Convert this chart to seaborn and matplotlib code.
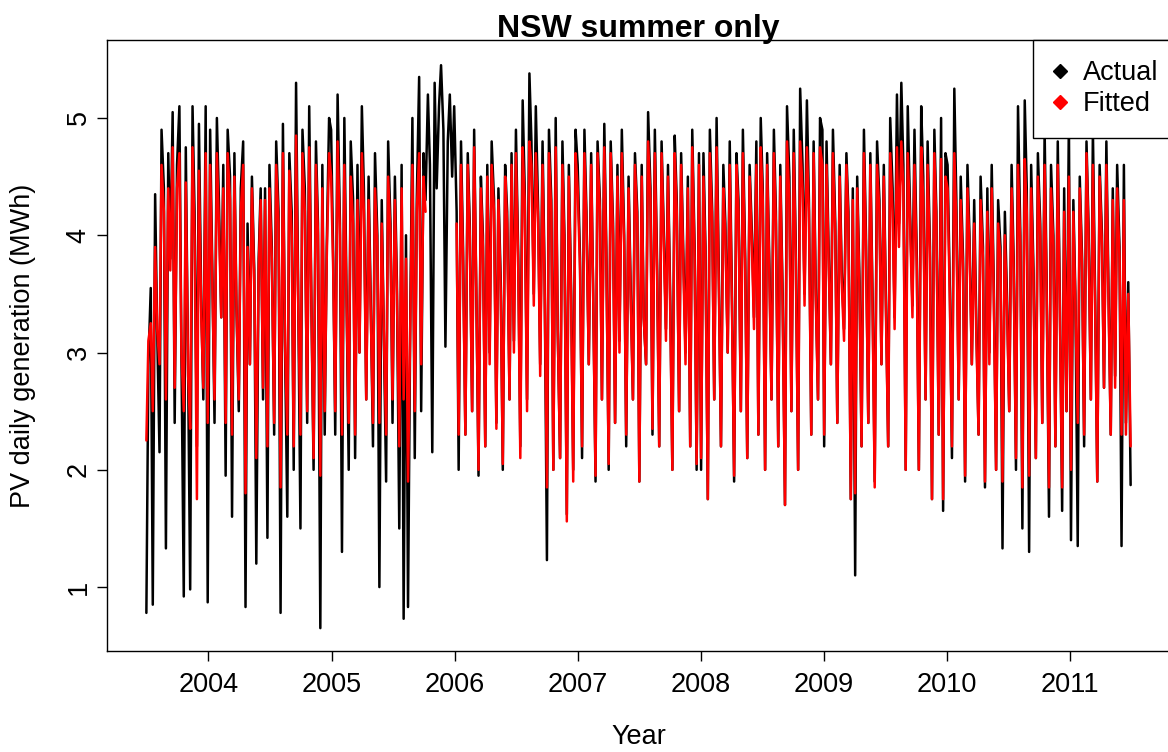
import numpy as np
import pandas as pd
import matplotlib
matplotlib.use("Agg")
import matplotlib.pyplot as plt
from matplotlib.lines import Line2D
import seaborn as sns

nan = np.nan

# ---- data (~56 samples per year) ----
actual_2003 = [0.78, 2.9, 3.55, 0.85, 4.35, 3.2, 2.15, 4.9, 4.4, 1.33, 4.7, 3.8, 5.05, 2.4, 4.6, 5.1, 3.0, 0.92, 4.75, 2.8,
               0.98, 5.1, 4.2, 2.2, 4.95, 3.4, 2.6, 5.1]
fitted_2003 = [2.25, 3.1, 3.25, 2.5, 3.9, 3.2, 2.9, 4.6, 4.2, 2.6, 4.4, 3.7, 4.75, 2.7, 4.4, 4.7, 3.0, 2.5, 4.45, 2.8,
               2.35, 4.75, 4.0, 1.75, 4.55, 3.3, 2.7, 4.7]

actual_2004 = [0.87, 4.9, 3.6, 2.4, 5.0, 4.3, 3.3, 4.6, 1.95, 4.9, 4.5, 1.6, 4.7, 3.4, 2.5, 4.4, 4.8, 0.83, 4.1, 2.9,
               4.5, 3.7, 1.2, 3.8, 4.4, 2.6, 4.4, 1.42, 4.6, 3.9, 2.3, 4.8, 4.2, 0.78, 4.95, 3.1, 1.6, 4.7, 4.2, 2.0,
               5.3, 3.6, 1.5, 4.9, 4.4, 2.4, 5.1, 3.3, 2.0, 4.8, 4.1, 0.65, 4.6, 2.3, 3.9, 5.0]
fitted_2004 = [2.4, 4.6, 3.5, 2.6, 4.7, 4.1, 3.3, 4.4, 2.4, 4.7, 4.3, 2.3, 4.5, 3.4, 2.6, 4.2, 4.6, 1.8, 3.9, 2.9,
               4.4, 3.6, 2.1, 3.7, 4.3, 2.7, 4.3, 2.2, 4.4, 3.8, 2.4, 4.6, 4.1, 1.85, 4.7, 3.1, 2.3, 4.55, 4.0, 2.2,
               4.85, 3.5, 2.3, 4.7, 4.2, 2.5, 4.75, 3.3, 2.1, 4.6, 4.0, 1.95, 4.4, 2.5, 3.8, 4.7]

actual_2005 = [4.9, 3.8, 2.3, 5.2, 4.1, 1.3, 5.0, 3.6, 2.0, 4.8, 4.3, 2.1, 4.6, 3.0, 5.1, 4.4, 2.6, 4.5, 3.5, 2.2,
               4.7, 4.0, 1.0, 4.3, 3.2, 1.9, 4.8, 4.1, 2.4, 4.5, 3.6, 1.5, 4.6, 0.73, 4.0, 0.83, 3.4, 5.0, 2.1, 4.3,
               5.35, 2.5, 4.7, 4.3, 5.2, 4.6, 2.15, 5.3, 4.4, 5.1, 5.45, 4.9, 3.05, 4.8, 5.2, 4.5]
fitted_2005 = [4.5, 3.7, 2.5, 4.8, 4.0, 2.3, 4.6, 3.5, 2.4, 4.5, 4.1, 2.3, 4.3, 3.0, 4.7, 4.2, 2.6, 4.3, 3.4, 2.4,
               4.4, 3.9, 2.4, 4.1, 3.2, 2.3, 4.5, 4.0, 2.6, 4.3, 3.5, 2.2, 4.4, 2.6, 3.8, 1.9, 3.3, 4.6, 2.5, 4.2,
               4.7, 2.9, 4.5, 4.2, nan, nan, nan, nan, nan, nan, nan, nan, nan, nan, nan, nan]

actual_2006 = [5.1, 4.2, 2.0, 4.8, 3.9, 2.3, 4.7, 4.1, 2.5, 4.9, 3.4, 1.95, 4.5, 4.0, 2.2, 4.6, 3.0, 4.8, 4.3, 2.4,
               4.4, 3.6, 2.0, 4.6, 4.2, 2.6, 4.7, 3.1, 4.9, 3.8, 2.2, 5.15, 4.4, 2.6, 5.38, 4.8, 3.5, 5.1, 4.2, 2.9,
               4.8, 3.7, 1.23, 4.9, 4.3, 2.0, 5.0, 3.2, 2.1, 4.8, 4.0, 1.62, 4.6, 3.5, 2.0, 4.9]
fitted_2006 = [nan, 4.1, 2.3, 4.6, 3.8, 2.3, 4.6, 4.0, 2.5, 4.75, 3.4, 2.0, 4.4, 3.9, 2.2, 4.5, 2.9, 4.6, 4.2, 2.35,
               4.3, 3.5, 2.05, 4.5, 4.1, 2.6, 4.6, 3.0, 4.7, 3.7, 2.1, 4.75, 4.3, 2.5, 4.8, 4.6, 3.4, 4.7, 4.1, 2.8,
               4.6, 3.6, 1.85, 4.7, 4.2, 2.0, 4.75, 3.2, 2.1, 4.6, 3.9, 1.56, 4.5, 3.4, 1.9, 4.7]

actual_2007 = [4.6, 3.8, 2.1, 4.9, 4.2, 2.9, 4.7, 3.5, 1.9, 4.8, 4.3, 2.6, 4.95, 3.9, 2.0, 4.8, 4.1, 2.4, 4.6, 3.1,
               4.9, 4.0, 2.2, 4.5, 3.6, 2.6, 4.7, 4.2, 1.9, 4.6, 3.3, 2.9, 5.05, 4.4, 2.3, 4.9, 3.7, 2.2, 4.8, 4.1,
               3.2, 4.6, 3.4, 2.0, 4.85, 4.3, 2.5, 4.7, 3.8, 3.0, 4.5, 2.2, 4.9, 3.9, 2.0, 4.7]
fitted_2007 = [4.4, 3.7, 2.2, 4.7, 4.1, 2.9, 4.6, 3.5, 1.95, 4.7, 4.2, 2.6, 4.75, 3.8, 2.05, 4.7, 4.0, 2.4, 4.5, 3.0,
               4.7, 3.9, 2.3, 4.4, 3.5, 2.6, 4.6, 4.1, 1.9, 4.5, 3.3, 2.9, 4.8, 4.3, 2.35, 4.7, 3.6, 2.2, 4.7, 4.0,
               3.1, 4.5, 3.3, 2.0, 4.7, 4.2, 2.5, 4.6, 3.7, 2.9, 4.4, 2.2, 4.75, 3.8, 2.05, 4.6]

actual_2008 = [2.0, 4.7, 3.9, 1.75, 4.9, 4.2, 2.6, 5.0, 3.6, 2.2, 4.6, 4.1, 3.0, 4.8, 3.4, 1.9, 4.7, 4.3, 2.5, 4.9,
               3.8, 2.1, 4.6, 4.0, 3.3, 4.8, 2.3, 5.0, 4.4, 2.0, 4.7, 3.7, 2.6, 4.9, 4.2, 2.2, 4.6, 3.5, 1.7, 5.1,
               4.5, 2.5, 4.9, 3.9, 2.0, 5.25, 4.6, 3.5, 5.15, 4.3, 2.3, 4.8, 3.6, 2.6, 5.0, 4.9]
fitted_2008 = [2.1, 4.5, 3.8, 1.75, 4.7, 4.1, 2.6, 4.75, 3.5, 2.2, 4.4, 4.0, 3.0, 4.6, 3.3, 1.95, 4.6, 4.2, 2.5, 4.7,
               3.7, 2.1, 4.5, 3.9, 3.2, 4.6, 2.3, 4.75, 4.3, 2.0, 4.6, 3.6, 2.6, 4.7, 4.1, 2.2, 4.5, 3.4, 1.7, 4.8,
               4.3, 2.5, 4.7, 3.8, 2.0, 4.8, 4.4, 3.4, 4.75, 4.2, 2.3, 4.7, 3.5, 2.6, 4.75, 4.6]

actual_2009 = [2.2, 4.8, 3.9, 2.9, 4.9, 4.1, 2.4, 4.6, 3.7, 3.2, 4.7, 4.2, 1.75, 4.4, 1.1, 4.5, 3.6, 2.2, 4.9, 4.0,
               2.4, 4.7, 3.4, 1.9, 4.8, 4.3, 2.9, 4.6, 3.5, 2.2, 5.0, 4.4, 3.3, 5.2, 4.1, 5.3, 4.6, 2.0, 5.1, 4.2,
               3.4, 4.9, 3.8, 2.0, 5.1, 4.5, 2.6, 4.8, 3.9, 1.75, 4.9, 4.2, 2.3, 5.0, 1.65, 4.7]
fitted_2009 = [2.3, 4.6, 3.8, 2.9, 4.7, 4.0, 2.4, 4.5, 3.6, 3.1, 4.6, 4.1, 1.75, 4.3, 1.8, 4.4, 3.5, 2.2, 4.7, 3.9,
               2.4, 4.6, 3.3, 1.85, 4.6, 4.2, 2.9, 4.5, 3.4, 2.2, 4.7, 4.2, 3.2, 4.75, 3.9, 4.8, 4.4, 2.0, 4.7, 4.1,
               3.3, 4.6, 3.7, 2.0, 4.75, 4.3, 2.6, 4.6, 3.8, 1.75, 4.7, 4.1, 2.3, 4.65, 1.75, 4.5]

actual_2010 = [4.6, 3.5, 2.1, 5.25, 4.3, 2.6, 4.5, 3.8, 1.9, 4.6, 4.0, 2.9, 4.3, 3.3, 2.3, 4.5, 3.9, 1.85, 4.4, 3.0,
               4.6, 3.6, 2.0, 4.3, 3.9, 1.33, 4.2, 3.4, 2.5, 4.6, 3.8, 2.0, 5.1, 4.0, 1.5, 5.15, 4.4, 1.3, 4.6, 3.7,
               2.1, 4.7, 4.1, 2.4, 4.9, 3.6, 1.6, 4.6, 4.0, 2.2, 4.8, 3.5, 1.65, 4.4, 2.5, 5.0]
fitted_2010 = [4.4, 3.4, 2.2, 4.7, 4.1, 2.6, 4.3, 3.7, 1.95, 4.4, 3.9, 2.9, 4.1, 3.2, 2.3, 4.3, 3.8, 1.9, 4.2, 2.9,
               4.4, 3.5, 2.0, 4.1, 3.8, 1.9, 4.0, 3.3, 2.5, 4.4, 3.7, 2.1, 4.6, 3.9, 1.85, 4.65, 4.2, 1.95, 4.4, 3.6,
               2.1, 4.5, 4.0, 2.4, 4.6, 3.5, 1.85, 4.4, 3.9, 2.2, 4.6, 3.4, 1.85, 4.2, 2.5, 4.5]

actual_2011 = [1.4, 4.3, 3.5, 1.35, 4.5, 3.8, 2.2, 4.8, 4.1, 2.6, 4.9, 3.4, 1.9, 4.6, 4.0, 2.7, 4.8, 3.6, 2.3, 4.4,
               2.8, 4.6, 3.9, 1.35, 4.6, 2.4, 3.6, 1.87]
fitted_2011 = [2.0, 4.2, 3.4, 2.4, 4.4, 3.7, 2.3, 4.7, 4.0, 2.6, 4.6, 3.3, 1.9, 4.5, 3.9, 2.7, 4.6, 3.5, 2.3, 4.3,
               2.7, 4.4, 3.8, 2.3, 4.3, 2.3, 3.5, 2.2]

year_ticks = [2004, 2005, 2006, 2007, 2008, 2009, 2010, 2011]
y_ticks = [1, 2, 3, 4, 5]
series_names = ["Actual", "Fitted"]
series_colors = ["black", "red"]

actual = np.array(actual_2003 + actual_2004 + actual_2005 + actual_2006 + actual_2007
                  + actual_2008 + actual_2009 + actual_2010 + actual_2011, dtype=float)
fitted = np.array(fitted_2003 + fitted_2004 + fitted_2005 + fitted_2006 + fitted_2007
                  + fitted_2008 + fitted_2009 + fitted_2010 + fitted_2011, dtype=float)

n = len(actual)
dates = pd.date_range("2003-07-01", "2011-06-30", periods=n)
year = dates.year + (dates.dayofyear - 1) / 365.25


def long_frame(vals, name):
    df = pd.DataFrame({"year": year, "value": vals})
    df["seg"] = df["value"].isna().cumsum()
    df = df.dropna()
    df["series"] = name
    return df


df_a = long_frame(actual, "Actual")
df_f = long_frame(fitted, "Fitted")

sns.set_style("white")
plt.rcParams["font.family"] = ["Liberation Sans", "DejaVu Sans"]
for key in ["text.color", "axes.labelcolor", "xtick.color", "ytick.color", "axes.edgecolor"]:
    plt.rcParams[key] = "black"

FS = 19.5

fig = plt.figure(figsize=(11.68, 7.52), dpi=100)
ax = fig.add_axes([107 / 1168, 1 - 651 / 752, (1170 - 107) / 1168, (651 - 40) / 752])

sns.lineplot(data=df_a, x="year", y="value", units="seg", estimator=None, sort=False,
             color=series_colors[0], lw=1.8, ax=ax, legend=False)
sns.lineplot(data=df_f, x="year", y="value", units="seg", estimator=None, sort=False,
             color=series_colors[1], lw=1.8, ax=ax, legend=False)

x0, x1 = year.min(), year.max()
pad = 0.04 * (x1 - x0)
ax.set_xlim(x0 - pad, x1 + pad)
ax.set_ylim(0.455, 5.665)

ax.set_xticks(year_ticks)
ax.set_xticklabels([str(t) for t in year_ticks])
ax.set_yticks(y_ticks)
ax.set_yticklabels([str(t) for t in y_ticks], rotation=90, va="center")

ax.tick_params(axis="both", which="major", direction="out", length=7, width=1,
               labelsize=FS, color="black", bottom=True, left=True)
ax.tick_params(axis="x", pad=8)
ax.tick_params(axis="y", pad=4)
for s in ax.spines.values():
    s.set_visible(True)
    s.set_color("black")
    s.set_linewidth(1.0)

ax.set_xlabel("Year", fontsize=FS)
ax.set_ylabel("PV daily generation (MWh)", fontsize=FS)
ax.xaxis.set_label_coords(0.5, (651 - 737) / 611)
ax.xaxis.label.set_va("center")
ax.yaxis.set_label_coords((23 - 107) / 1063, 0.5)
ax.yaxis.label.set_va("center")
ax.yaxis.label.set_ha("center")
ax.set_title("NSW summer only", fontsize=23, fontweight="bold", pad=2)

handles = [Line2D([], [], marker="D", ls="none", color=c, markersize=7) for c in series_colors]
leg = ax.legend(handles, series_names, loc="upper right", bbox_to_anchor=(1.0085, 1.0),
                frameon=True, fontsize=FS, borderaxespad=0, handletextpad=0.65,
                borderpad=0.75, labelspacing=0.18, fancybox=False, handlelength=0.45,
                framealpha=1)
leg.get_frame().set_edgecolor("black")
leg.get_frame().set_linewidth(1.0)

fig.savefig("out.png", dpi=100)
